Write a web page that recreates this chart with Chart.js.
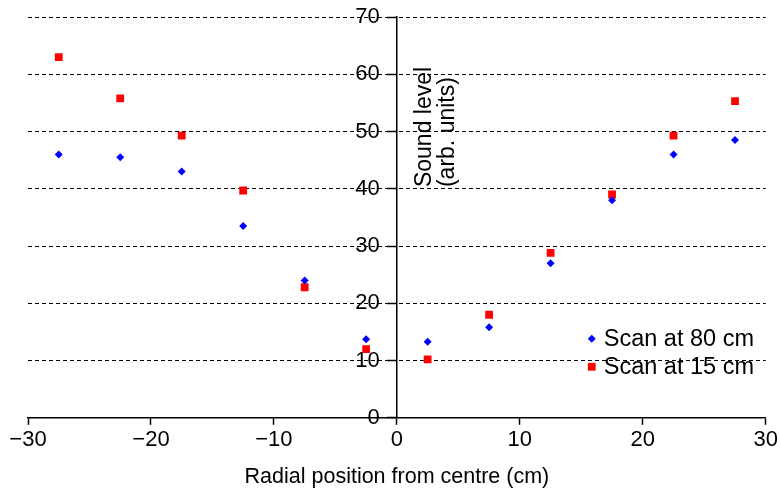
<!DOCTYPE html>
<html>
<head>
<meta charset="utf-8">
<script src="https://cdn.jsdelivr.net/npm/chart.js@4/dist/chart.umd.min.js"></script>
<style>
  html, body { margin: 0; padding: 0; background: #fff; }
  #wrap { width: 780px; height: 492px; }
</style>
</head>
<body>
<div id="wrap"><canvas id="scanChart"></canvas></div>
<script>
// radial positions (cm)
let positions = [-27.5, -22.5, -17.5, -12.5, -7.5, -2.5, 2.5, 7.5, 12.5, 17.5, 22.5, 27.5];
let scan80 = [46, 45.5, 43, 33.5, 24, 13.7, 13.3, 15.8, 27, 38, 46, 48.5];
let scan15 = [63, 55.8, 49.3, 39.7, 22.8, 12, 10.2, 18, 28.8, 39, 49.3, 55.3];
let seriesNames = ['Scan at 80 cm', 'Scan at 15 cm'];
let yTitle = ['Sound level', '(arb. units)'];
let xTitle = 'Radial position from centre (cm)';

const FONT = 'Arial, "Liberation Sans", Helvetica, sans-serif';

function toPoints(vals) {
    return positions.map((x, i) => ({ x: x, y: vals[i] }));
}

// y title sits inside the plot, just right of the centre axis
const yTitlePlugin = {
    id: 'yTitleInside',
    afterDraw(chart) {
        const ctx = chart.ctx;
        const xs = chart.scales.x, ys = chart.scales.y;
        const x0 = xs.getPixelForValue(0);
        const yStart = ys.getPixelForValue(40.3);
        ctx.save();
        ctx.fillStyle = '#000';
        ctx.font = '23px ' + FONT;
        ctx.textAlign = 'left';
        ctx.textBaseline = 'middle';
        ctx.translate(x0 + 28, yStart);
        ctx.rotate(-Math.PI / 2);
        ctx.fillText(yTitle[0], 0, 0);
        ctx.fillText(yTitle[1], 0, 23);
        ctx.restore();
    }
};

// legend in the lower right corner of the plot
const legendPlugin = {
    id: 'insideLegend',
    afterDraw(chart) {
        const ctx = chart.ctx;
        const area = chart.chartArea;
        const mx = area.right - 174, ty = area.bottom - 79;
        chart.data.datasets.forEach((ds, i) => {
            const y = ty + i * 28;
            ctx.save();
            ctx.fillStyle = ds.backgroundColor;
            ctx.strokeStyle = ds.backgroundColor;
            Chart.helpers.drawPoint(ctx, {
                pointStyle: ds.pointStyle,
                radius: ds.pointRadius,
                borderWidth: 0,
                rotation: 0
            }, mx, y);
            ctx.fillStyle = '#000';
            ctx.font = '23.5px ' + FONT;
            ctx.textBaseline = 'middle';
            ctx.textAlign = 'left';
            ctx.fillText(ds.label, mx + 12, y + 1);
            ctx.restore();
        });
    }
};

let ctx = document.getElementById('scanChart').getContext('2d');
let scanChart = new Chart(ctx, {
    type: 'scatter',
    data: {
        datasets: [{
            label: seriesNames[0],
            data: toPoints(scan80),
            pointStyle: 'rectRot',
            pointRadius: 4,
            backgroundColor: '#0000ff',
            borderColor: '#0000ff',
            borderWidth: 0
        }, {
            label: seriesNames[1],
            data: toPoints(scan15),
            pointStyle: 'rect',
            pointRadius: 5.5,
            backgroundColor: '#ff0000',
            borderColor: '#ff0000',
            borderWidth: 0
        }]
    },
    options: {
        responsive: true,
        maintainAspectRatio: false,
        animation: false,
        layout: {
            padding: { left: 28, right: 4, top: 17, bottom: 0 }
        },
        plugins: {
            legend: { display: false },
            tooltip: { enabled: false }
        },
        scales: {
            x: {
                type: 'linear',
                min: -30,
                max: 30,
                ticks: {
                    stepSize: 10,
                    color: '#000',
                    font: { family: FONT, size: 22 },
                    padding: 2,
                    callback: v => v < 0 ? '\u2212' + Math.abs(v) : String(v)
                },
                grid: {
                    drawOnChartArea: false,
                    drawTicks: true,
                    tickLength: 7,
                    tickColor: '#000',
                    tickWidth: 1.5
                },
                border: { display: true, color: '#000', width: 1.5 },
                title: {
                    display: true,
                    text: xTitle,
                    color: '#000',
                    font: { family: FONT, size: 21.5 },
                    padding: { top: 9, bottom: 2 }
                }
            },
            y: {
                type: 'linear',
                min: 0,
                max: 70,
                position: { x: 0 },
                ticks: {
                    stepSize: 10,
                    color: '#000',
                    font: { family: FONT, size: 22 },
                    // labels are right-aligned on the axis line, so pad with spaces
                    callback: v => String(v) + '\u2002\u2009\u200a'
                },
                grid: {
                    drawOnChartArea: true,
                    drawTicks: true,
                    tickLength: 9,
                    color: '#000',
                    lineWidth: 1,
                    tickColor: '#000',
                    tickWidth: 1.5
                },
                border: { display: true, color: '#000', width: 1.5, dash: [4, 3] }
            }
        }
    },
    plugins: [yTitlePlugin, legendPlugin]
});
</script>
</body>
</html>
